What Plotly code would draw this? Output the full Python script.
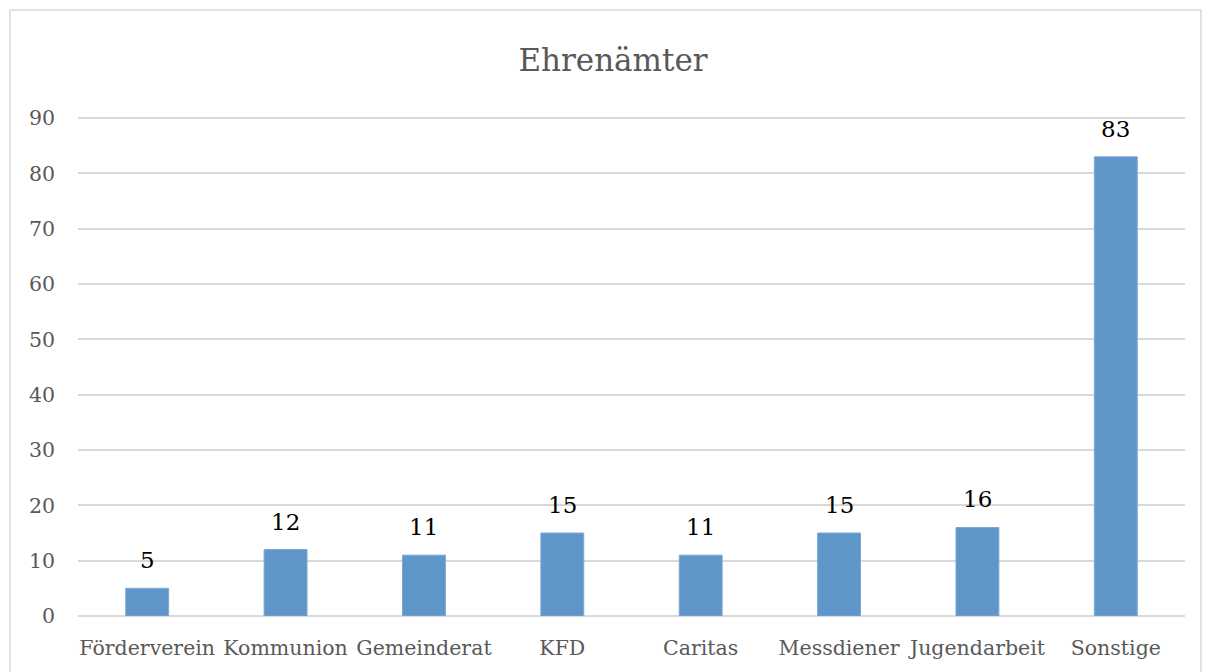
import plotly.graph_objects as go

categories = ["Förderverein", "Kommunion", "Gemeinderat", "KFD", "Caritas",
              "Messdiener", "Jugendarbeit", "Sonstige"]
values = [5, 12, 11, 15, 11, 15, 16, 83]
y_ticks = [0, 10, 20, 30, 40, 50, 60, 70, 80, 90]
title_text = "Ehrenämter"

FONT = "DejaVu Serif"

fig = go.Figure()
fig.add_trace(go.Bar(
    x=categories, y=values,
    marker=dict(color="#5F96C9", line=dict(color="#7AA8D6", width=1)),
    width=0.31,
    hoverinfo="x+y",
))

for c, v in zip(categories, values):
    fig.add_annotation(x=c, y=v, text=str(v), showarrow=False,
                       yshift=28, font=dict(family=FONT, size=23, color="#000000"))

fig.update_layout(
    width=1210, height=672,
    margin=dict(l=70, r=33, t=109, b=64),
    paper_bgcolor="white", plot_bgcolor="white",
    title=dict(text=title_text, x=0.5, xanchor="center", y=0.9226, yanchor="middle",
               font=dict(family=FONT, size=31, color="#595959")),
    showlegend=False,
    xaxis=dict(showgrid=False, showline=False, zeroline=False,
               tickfont=dict(family=FONT, size=20.5, color="#595959"),
               ticklabelstandoff=17),
    yaxis=dict(range=[0, 90.2], tickvals=y_ticks, showgrid=True,
               gridcolor="#D9D9D9", gridwidth=1.5, zeroline=True,
               zerolinecolor="#D9D9D9", zerolinewidth=1.5, showline=False,
               tickfont=dict(family=FONT, size=20.5, color="#595959"),
               ticklabelstandoff=22),
)

fig.add_shape(type="rect", xref="paper", yref="paper",
              x0=(10 - 78) / 1107, x1=(1201 - 78) / 1107,
              y0=(616 - 700) / 499, y1=(616 - 10) / 499,
              line=dict(color="#D9D9D9", width=1.5), fillcolor="rgba(0,0,0,0)",
              layer="below")

fig.write_html("out.html")
